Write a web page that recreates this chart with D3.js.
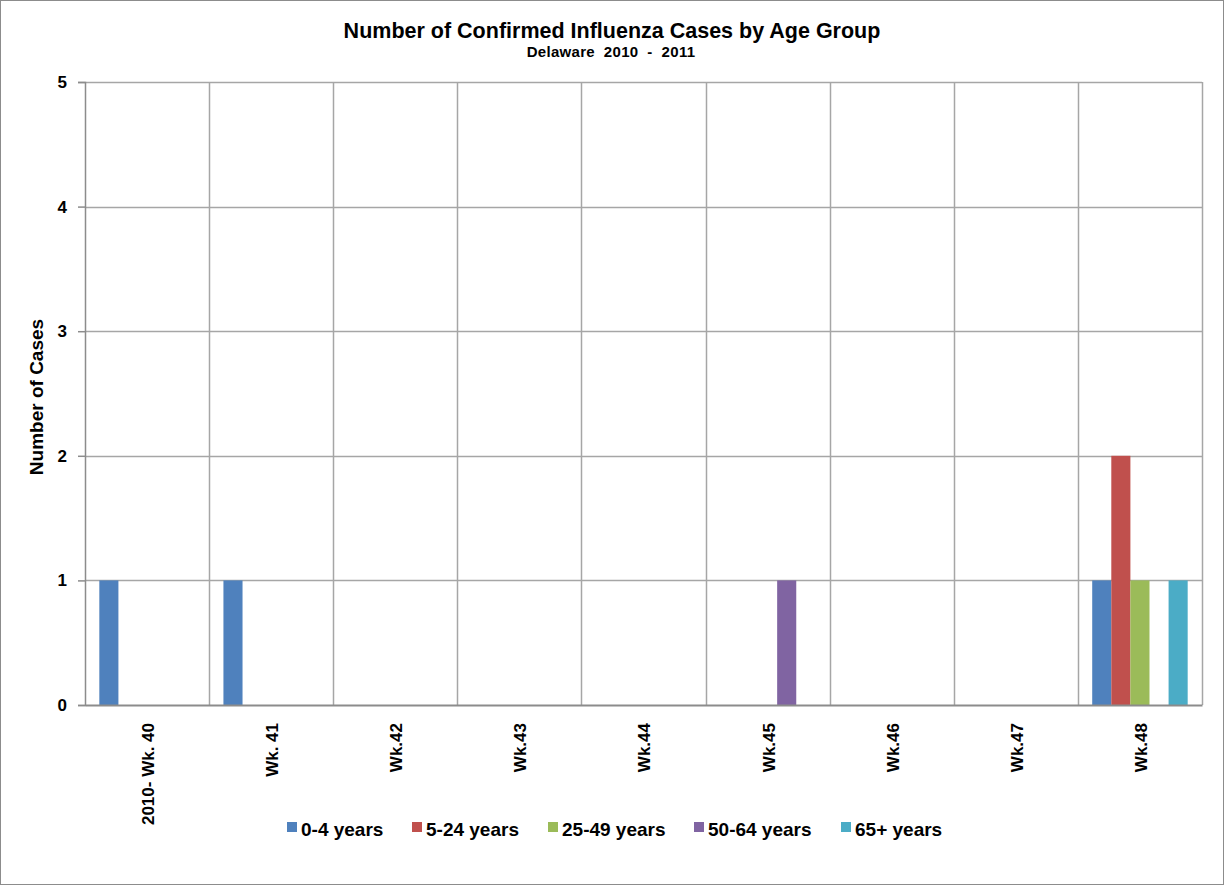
<!DOCTYPE html>
<html><head><meta charset="utf-8">
<script src="https://cdn.jsdelivr.net/npm/d3@7"></script>
<style>
body{margin:0;background:#fff;}
text{font-family:"Liberation Sans",Arial,sans-serif;font-weight:bold;fill:#000;white-space:pre;}
</style></head>
<body><svg id="c" width="1225" height="886"></svg>
<script>
const weeks = ["2010- Wk. 40","Wk. 41","Wk.42","Wk.43","Wk.44","Wk.45","Wk.46","Wk.47","Wk.48"];
const seriesNames = ["0-4 years","5-24 years","25-49 years","50-64 years","65+ years"];
const colors = ["#4F81BD","#C0504D","#9BBB59","#8064A2","#4BACC6"];
const age0_4   = [1,1,0,0,0,0,0,0,1];
const age5_24  = [0,0,0,0,0,0,0,0,2];
const age25_49 = [0,0,0,0,0,0,0,0,1];
const age50_64 = [0,0,0,0,0,1,0,0,0];
const age65    = [0,0,0,0,0,0,0,0,1];
const yTicks = [0,1,2,3,4,5];
const allSeries = [age0_4,age5_24,age25_49,age50_64,age65];

const FONT = "Liberation Sans, Arial, sans-serif";
const svg = d3.select("#c");
svg.append("rect").attr("x",0.5).attr("y",0.5).attr("width",1223).attr("height",884)
  .attr("fill","#fff").attr("stroke","#8c8c8c");

const L=85,R=1202,T=82,B=705;
const x = d3.scaleBand().domain(weeks).range([L,R]).paddingInner(0).paddingOuter(0);
const x1 = d3.scaleBand().domain(seriesNames).range([0,x.bandwidth()]).paddingOuter(0.75).paddingInner(0);
const y = d3.scaleLinear().domain([0,5]).range([B,T]);

// horizontal gridlines
svg.append("g").selectAll("line").data(yTicks.filter(d=>d>0)).join("line")
  .attr("x1",L).attr("x2",R).attr("y1",d=>Math.round(y(d))+0.5).attr("y2",d=>Math.round(y(d))+0.5)
  .attr("stroke","#a6a6a6").attr("stroke-width",1.5);
// vertical gridlines
svg.append("g").selectAll("line").data(weeks).join("line")
  .attr("x1",d=>Math.round(x(d)+x.bandwidth())+0.5).attr("x2",d=>Math.round(x(d)+x.bandwidth())+0.5)
  .attr("y1",T).attr("y2",B).attr("stroke","#a6a6a6").attr("stroke-width",1.5);

// bars
const g = svg.append("g");
allSeries.forEach((vals,si)=>{
  g.selectAll(null).data(vals.map((v,i)=>({w:weeks[i],v}))).join("rect")
    .filter(d=>d.v>0)
    .attr("x",d=>x(d.w)+x1(seriesNames[si]))
    .attr("width",x1.bandwidth())
    .attr("y",d=>y(d.v))
    .attr("height",d=>B-y(d.v))
    .attr("fill",colors[si]);
});

// y axis
const ya = svg.append("g").attr("transform",`translate(${L},0)`)
  .call(d3.axisLeft(y).tickValues(yTicks).tickFormat(d3.format("d")).tickSize(7).tickPadding(11));
ya.select(".domain").attr("stroke","#8c8c8c").attr("stroke-width",1.5);
ya.selectAll(".tick line").attr("stroke","#8c8c8c").attr("stroke-width",1.5);
ya.selectAll("text").style("font-size","17px").style("font-family",FONT).style("font-weight","bold");

// x axis
const xa = svg.append("g").attr("transform",`translate(0,${B})`)
  .call(d3.axisBottom(x).tickSize(0).tickPadding(0));
xa.select(".domain").attr("stroke","#8c8c8c").attr("stroke-width",2);
xa.selectAll("text").style("font-size","17px").style("font-family",FONT).style("font-weight","bold")
  .attr("transform","translate(1,18) rotate(-90)").attr("text-anchor","end").attr("dy","0.35em").attr("y",0).attr("x",0);

// titles
svg.append("text").attr("x",612).attr("y",38).attr("text-anchor","middle").style("font-size","21.5px")
  .text("Number of Confirmed Influenza Cases by Age Group");
svg.append("text").attr("x",611).attr("y",57).attr("text-anchor","middle").style("font-size","15px")
  .style("letter-spacing","0.3px").text("Delaware  2010  -  2011");
svg.append("text").attr("transform","translate(43,397) rotate(-90)").attr("text-anchor","middle").style("font-size","19px")
  .text("Number of Cases");

// legend
const legX = [287,412,548,694,841];
const leg = svg.append("g");
seriesNames.forEach((n,i)=>{
  leg.append("rect").attr("x",legX[i]).attr("y",822).attr("width",10).attr("height",10).attr("fill",colors[i]);
  leg.append("text").attr("x",legX[i]+14).attr("y",836).style("font-size","19px").text(n);
});
</script></body></html>
